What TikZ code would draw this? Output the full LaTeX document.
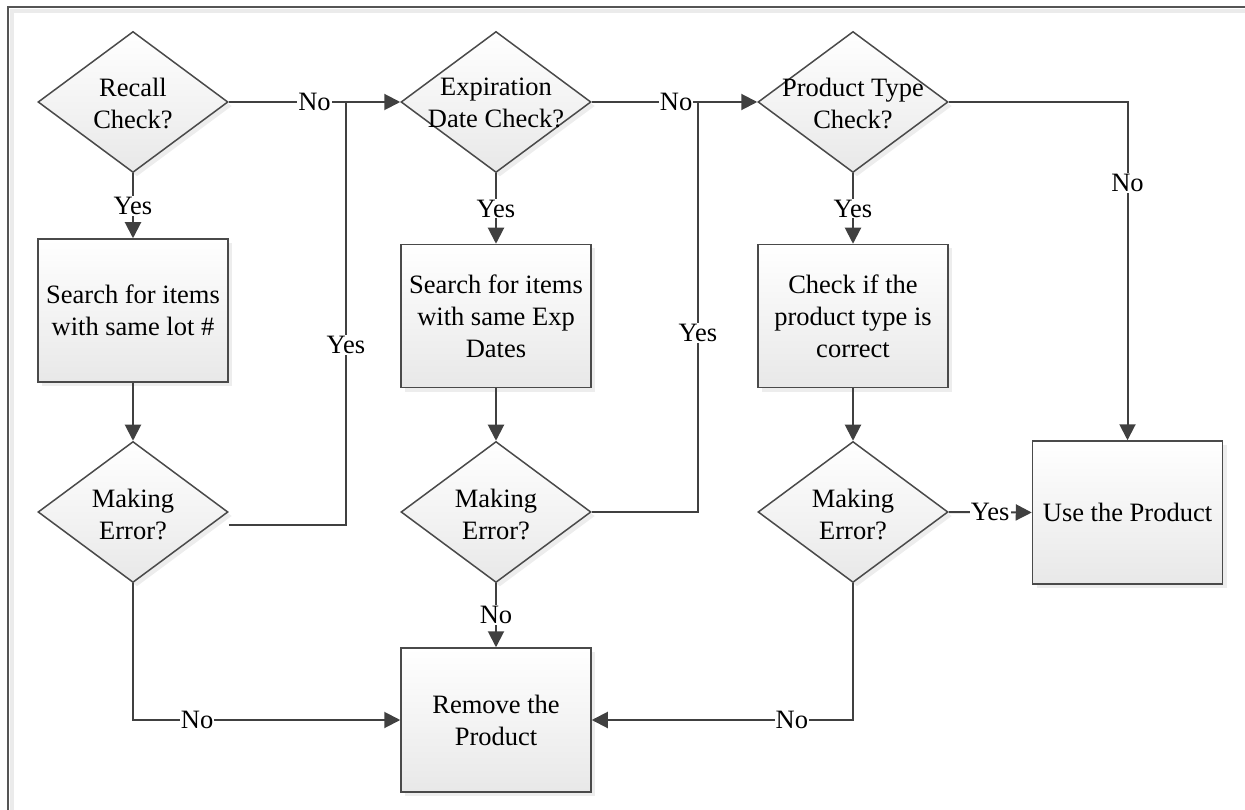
\documentclass[tikz,border=0pt]{standalone}
\usepackage{fontspec}
\setmainfont{Liberation Serif}
\usetikzlibrary{shapes.geometric,arrows.meta,shadows}
\definecolor{ln}{HTML}{404040}
\definecolor{bd}{HTML}{4A4A4A}
\definecolor{fillbot}{HTML}{E8E8E8}
\definecolor{frm}{HTML}{555555}
\begin{document}
\begin{tikzpicture}[x=1pt,y=-1pt,font=\fontsize{26.5}{32}\selectfont,
  box/.style={rectangle, draw=bd, line width=1.5pt, top color=white, bottom color=fillbot,
    minimum width=190pt, minimum height=143pt, inner sep=0pt, align=center,
    drop shadow={shadow xshift=4pt, shadow yshift=-4pt, fill=black, opacity=0.07}},
  dia/.style={diamond, draw=bd, line width=1.5pt, top color=white, bottom color=fillbot,
    minimum width=190pt, minimum height=141pt, inner sep=0pt,
    drop shadow={shadow xshift=4pt, shadow yshift=-4pt, fill=black, opacity=0.07}},
  dtext/.style={align=center, inner sep=0pt},
  conn/.style={draw=ln, line width=2pt, -{Triangle[length=16pt,width=16pt]}},
  plainline/.style={draw=ln, line width=2pt},
  lbl/.style={fill=white, inner sep=1pt}]
\useasboundingbox (0,0) rectangle (1245,810);
% frame
\draw[black!8, line width=4pt] (12,810) -- (12,11) -- (1245,11);
\draw[frm, line width=1.5pt] (8,810) -- (8,7) -- (1245,7);

% column 1
\node[dia] (d1) at (133,102) {};
\node[dtext] (d1t) at (133,103) {Recall\\Check?};
\node[box] (b1) at (133,310.5) {Search for items\\with same lot \#};
\node[dia] (e1) at (133,512) {};
\node[dtext] (e1t) at (133,514) {Making\\Error?};

% column 2
\node[dia] (d2) at (496,102) {};
\node[dtext] (d2t) at (496,103) {Expiration\\Date Check?};
\node[box] (b2) at (496,316) {Search for items\\with same Exp\\Dates};
\node[dia] (e2) at (496,512) {};
\node[dtext] (e2t) at (496,514) {Making\\Error?};
\node[box, minimum height=144pt] (rem) at (496,720) {Remove the\\Product};

% column 3
\node[dia] (d3) at (853,102) {};
\node[dtext] (d3t) at (853,103) {Product Type\\Check?};
\node[box] (b3) at (853,316) {Check if the\\product type is\\correct};
\node[dia] (e3) at (853,512) {};
\node[dtext] (e3t) at (853,514) {Making\\Error?};

% column 4
\node[box] (use) at (1127.5,512.5) {Use the Product};

% junctions
\coordinate (j1) at (346,102);
\coordinate (j2) at (698,102);

% connectors
\draw[conn] (d1) -- node[lbl] {Yes} (b1);
\draw[conn] (d2) -- node[lbl] {Yes} (b2);
\draw[conn] (d3) -- node[lbl] {Yes} (b3);
\draw[conn] (b1) -- (e1);
\draw[conn] (b2) -- (e2);
\draw[conn] (b3) -- (e3);
\draw[conn] (d1.east) -- node[lbl] {No} (d2.west);
\draw[conn] (d2.east) -- node[lbl, pos=0.51] {No} (d3.west);
\draw[conn] (d3.east) -| node[lbl, pos=0.62] {No} (use.north);
\draw[plainline] ([yshift=-13pt]e1.east) -| node[lbl, pos=0.713] {Yes} (j1);
\draw[plainline] (e2.east) -| node[lbl, pos=0.718] {Yes} (j2);
\draw[conn] (e1.south) |- node[lbl, pos=0.62] {No} (rem.west);
\draw[conn] (e2.south) -- node[lbl] {No} (rem.north);
\draw[conn] (e3.south) |- node[lbl, pos=0.617] {No} (rem.east);
\draw[conn] (e3.east) -- node[lbl] {Yes} (use.west);
\end{tikzpicture}
\end{document}
